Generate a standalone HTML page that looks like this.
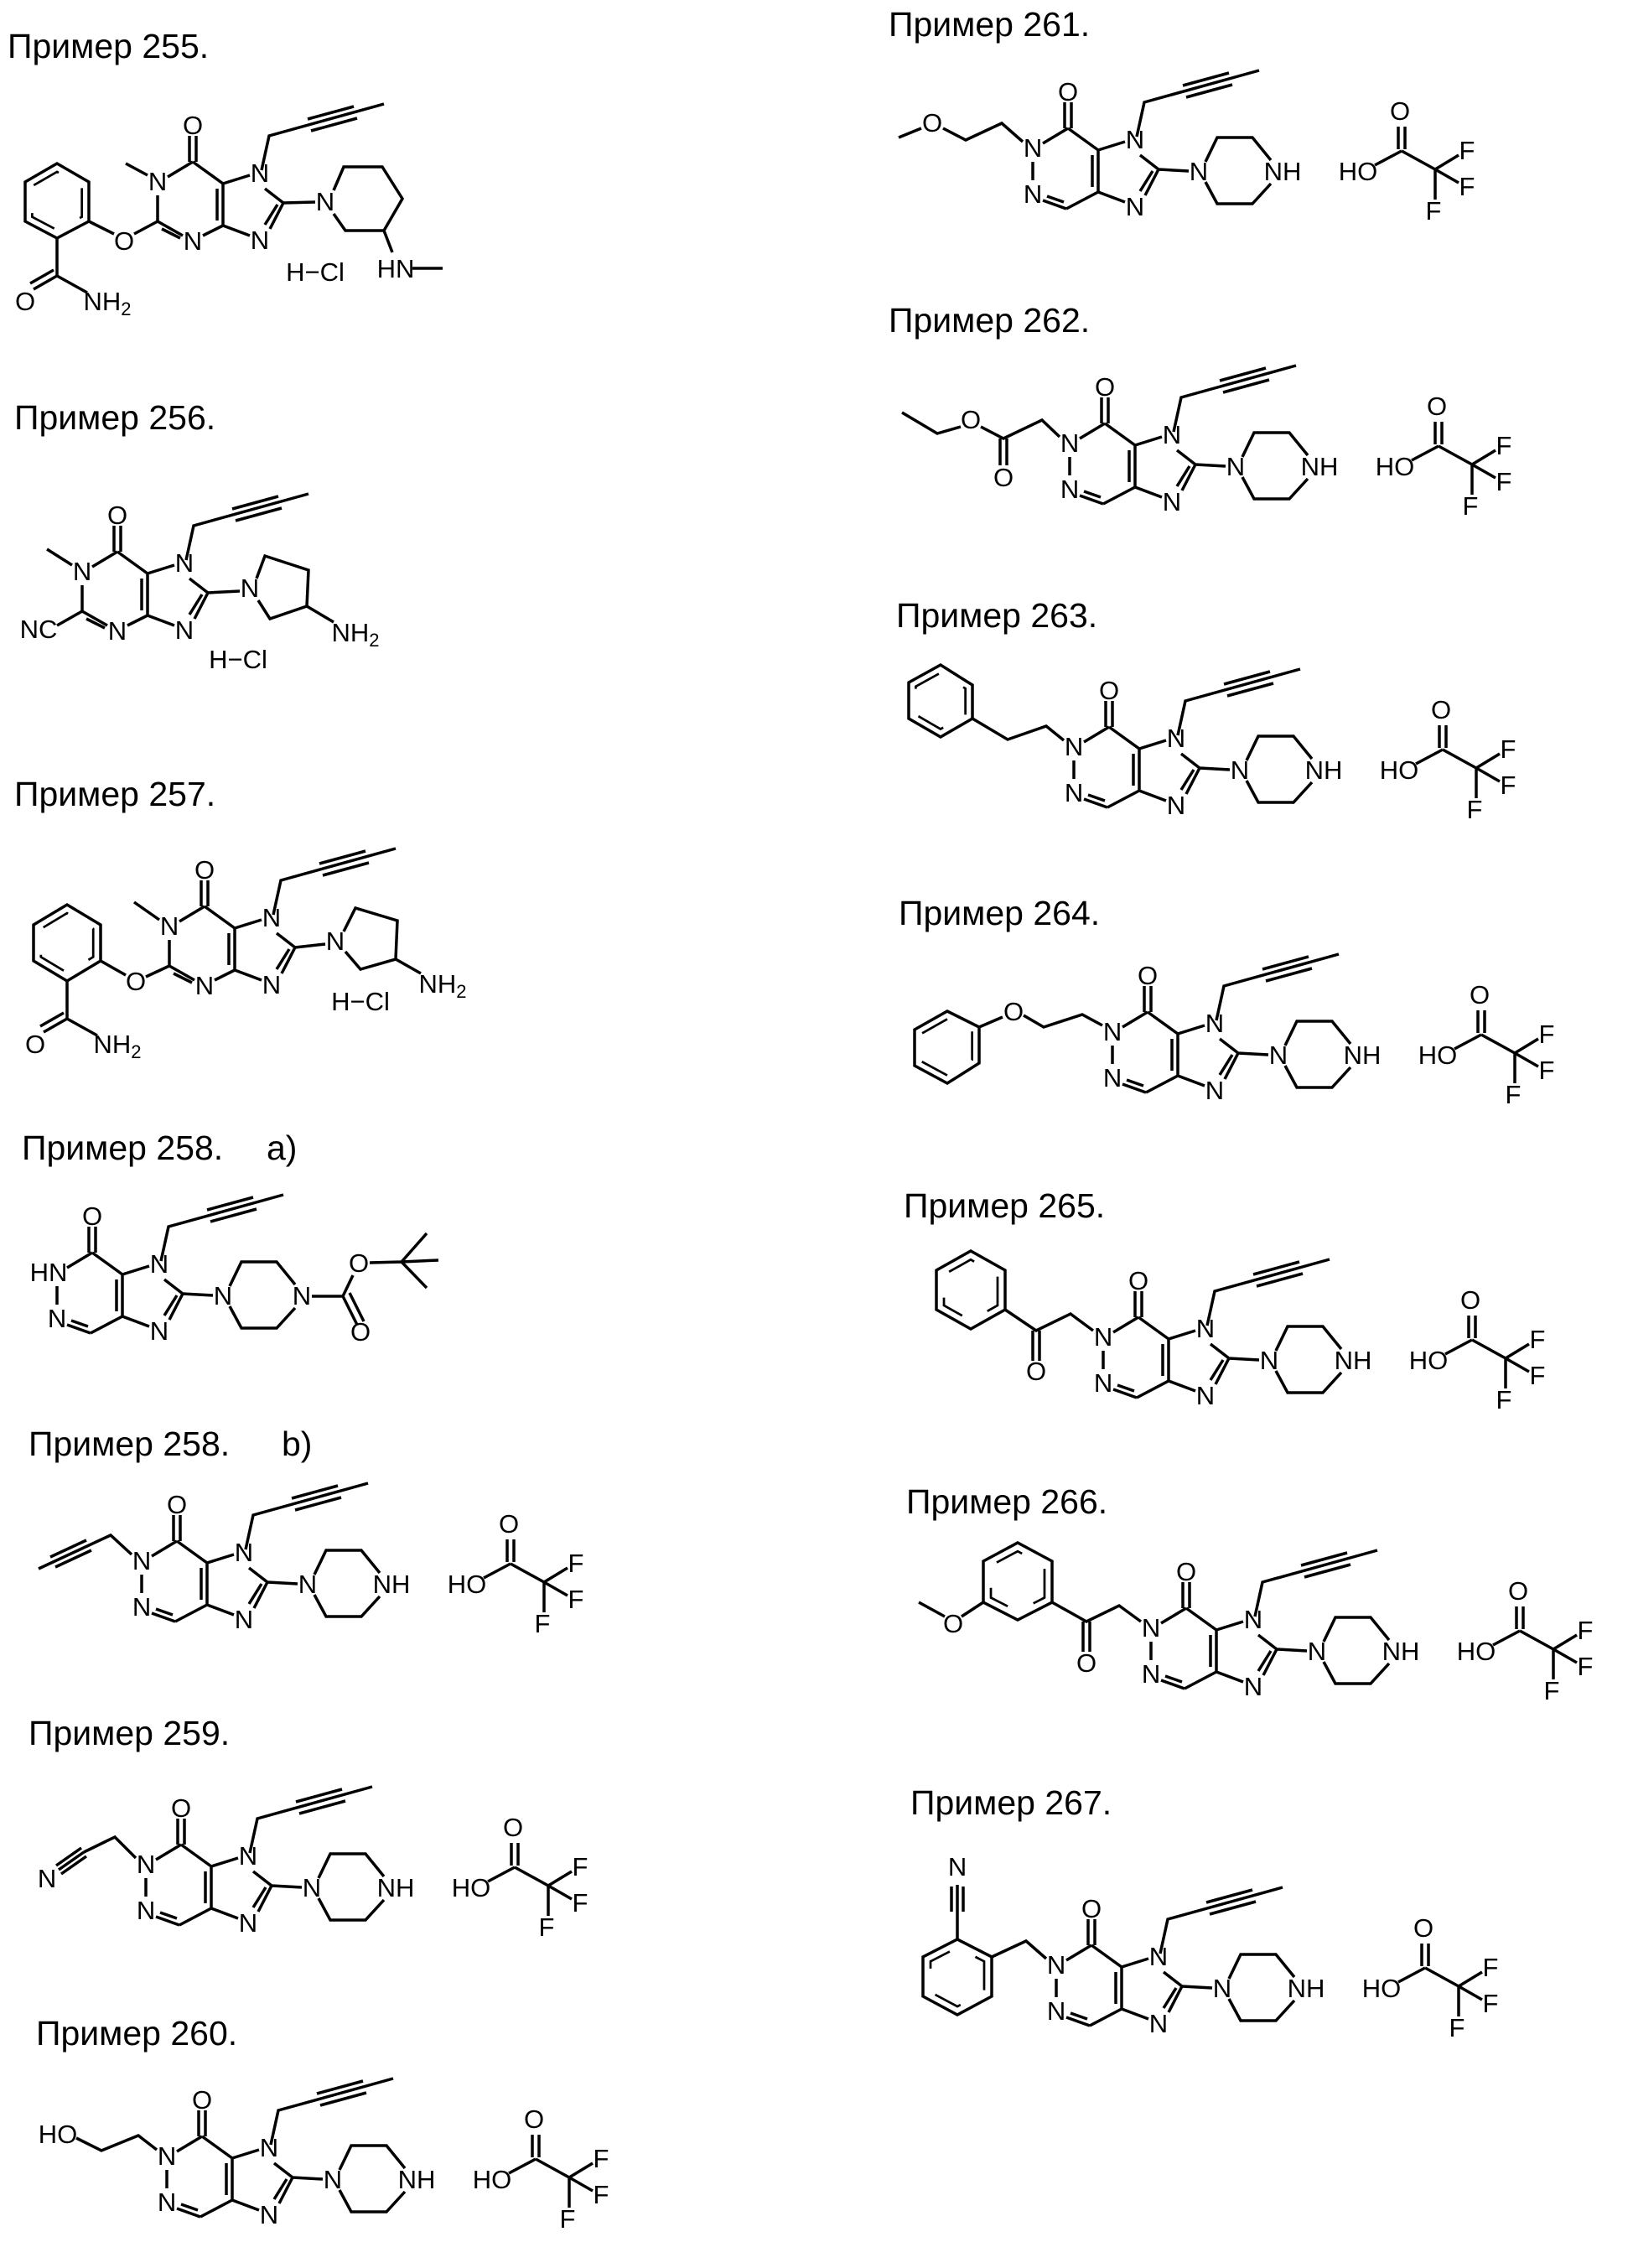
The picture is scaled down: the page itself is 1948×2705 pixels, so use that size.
<!DOCTYPE html>
<html><head><meta charset="utf-8"><style>
html,body{margin:0;padding:0;background:#fff;}
svg{display:block}
.t{font-family:"Liberation Sans",sans-serif;font-size:41px;fill:#000}
.a{font-family:"Liberation Sans Narrow","Liberation Sans",sans-serif;font-size:31px;fill:#000;text-anchor:middle}
path,polygon,line{fill:none;stroke:#000;stroke-width:3.5;stroke-linejoin:miter}
.in polygon{stroke-dasharray:44 44}
</style></head><body>
<svg width="1948" height="2705" viewBox="0 0 1948 2705" xmlns="http://www.w3.org/2000/svg">

<!-- Titles -->
<text class="t" x="9" y="69">Пример 255.</text>
<text class="t" x="17" y="512">Пример 256.</text>
<text class="t" x="17" y="961">Пример 257.</text>
<text class="t" x="26" y="1383">Пример 258.</text><text class="t" x="318" y="1383">a)</text>
<text class="t" x="34" y="1736">Пример 258.</text><text class="t" x="336" y="1736">b)</text>
<text class="t" x="34" y="2081">Пример 259.</text>
<text class="t" x="43" y="2439">Пример 260.</text>
<text class="t" x="1060" y="43">Пример 261.</text>
<text class="t" x="1060" y="396">Пример 262.</text>
<text class="t" x="1069" y="748">Пример 263.</text>
<text class="t" x="1072" y="1103">Пример 264.</text>
<text class="t" x="1078" y="1452">Пример 265.</text>
<text class="t" x="1081" y="1805">Пример 266.</text>
<text class="t" x="1086" y="2164">Пример 267.</text>

<!-- 255 -->
<g transform="translate(188,217)">
<path d="M12,-6 L42,-24 M38,-24 L38,-55 M46,-24 L46,-55 M42,-24 L78,2 M78,2 L78,52 M71,8 L71,46 M0,16 L0,47 L30,64 M5,56 L27,67 M54,64 L78,52 M78,2 L110,-8 M128,8 L150,25 M150,25 L134,56 M143,27 L128,51 M78,52 L110,64 M124,-14 L133,-55 L270,-93 M179,-75 L234,-90 M183,-61 L238,-76"/>
<text class="a" x="0" y="10">N</text><text class="a" x="42" y="-57">O</text><text class="a" x="122" y="0">N</text><text class="a" x="122" y="80">N</text><text class="a" x="42" y="81">N</text>
<path d="M-12,-8 L-38,-22 M0,47 L-28,62 M-52,62 L-82,47"/>
<text class="a" x="-40" y="81">O</text>
<polygon points="-82,47 -82,0 -120,-22 -158,0 -158,47 -120,67"/>
<g class="in" transform="translate(-120,23) scale(.78) translate(120,-23)"><polygon points="-82,47 -82,0 -120,-22 -158,0 -158,47 -120,67"/></g>
<path d="M-120,67 L-120,112 M-120,112 L-148,128 M-124,105 L-152,121 M-120,112 L-84,132"/>
<text class="a" x="-158" y="153">O</text><text class="a" x="-60" y="153">NH<tspan font-size="22" dy="6">2</tspan></text>
<path d="M150,25 L188,24 M210,10 L222,-18 L268,-18 L292,20 L270,58 L224,58 L210,38 M270,58 L280,84 M304,103 L340,103"/>
<text class="a" x="200" y="34">N</text><text class="a" x="284" y="114">HN</text>
<text class="a" x="188" y="118">H−Cl</text>
</g>

<!-- 256 -->
<g transform="translate(98,682)">
<path d="M12,-6 L42,-24 M38,-24 L38,-55 M46,-24 L46,-55 M42,-24 L78,2 M78,2 L78,52 M71,8 L71,46 M0,16 L0,47 L30,64 M5,56 L27,67 M54,64 L78,52 M78,2 L110,-8 M128,8 L150,25 M150,25 L134,56 M143,27 L128,51 M78,52 L110,64 M124,-14 L133,-55 L270,-93 M179,-75 L234,-90 M183,-61 L238,-76"/>
<text class="a" x="0" y="10">N</text><text class="a" x="42" y="-57">O</text><text class="a" x="122" y="0">N</text><text class="a" x="122" y="80">N</text><text class="a" x="42" y="81">N</text>
<path d="M-12,-8 L-42,-27 M0,47 L-30,64"/>
<text class="a" x="-52" y="79">NC</text>
<path d="M150,25 L188,23 M208,8 L218,-19 L270,-2 L268,41 L224,56 L210,34 M268,41 L300,60"/>
<text class="a" x="200" y="30">N</text>
<text class="a" x="326" y="83">NH<tspan font-size="22" dy="6">2</tspan></text>
<text class="a" x="186" y="115">H−Cl</text>
</g>

<!-- 257 -->
<g transform="translate(202,1105)">
<path d="M12,-6 L42,-24 M38,-24 L38,-55 M46,-24 L46,-55 M42,-24 L78,2 M78,2 L78,52 M71,8 L71,46 M0,16 L0,47 L30,64 M5,56 L27,67 M54,64 L78,52 M78,2 L110,-8 M128,8 L150,25 M150,25 L134,56 M143,27 L128,51 M78,52 L110,64 M124,-14 L133,-55 L270,-93 M179,-75 L234,-90 M183,-61 L238,-76"/>
<text class="a" x="0" y="10">N</text><text class="a" x="42" y="-57">O</text><text class="a" x="122" y="0">N</text><text class="a" x="122" y="80">N</text><text class="a" x="42" y="81">N</text>
<path d="M-12,-8 L-42,-29 M0,47 L-28,60 M-52,58 L-82,41"/>
<text class="a" x="-40" y="76">O</text>
<polygon points="-82,41 -82,-2 -122,-26 -162,-2 -162,41 -122,65"/>
<g class="in" transform="translate(-122,20) scale(.78) translate(122,-20)"><polygon points="-82,41 -82,-2 -122,-26 -162,-2 -162,41 -122,65"/></g>
<path d="M-122,65 L-122,110 M-122,110 L-150,126 M-126,103 L-154,119 M-122,110 L-86,130"/>
<text class="a" x="-160" y="151">O</text><text class="a" x="-62" y="151">NH<tspan font-size="22" dy="6">2</tspan></text>
<path d="M150,25 L186,21 M208,6 L222,-22 L272,-7 L270,39 L228,51 L210,30 M270,39 L300,56"/>
<text class="a" x="198" y="28">N</text>
<text class="a" x="326" y="79">NH<tspan font-size="22" dy="6">2</tspan></text>
<text class="a" x="228" y="100">H−Cl</text>
</g>

<!-- 258a -->
<g transform="translate(68,1518)">
<path d="M12,-6 L42,-24 M38,-24 L38,-55 M46,-24 L46,-55 M42,-24 L78,2 M78,2 L78,52 M71,8 L71,46 M78,52 L40,72 M40,72 L12,62 M37,64 L17,57 M0,16 L0,38 M78,2 L110,-8 M128,8 L150,25 M150,25 L134,56 M143,27 L128,51 M78,52 L110,64 M150,25 L186,27 M124,-14 L133,-55 L270,-93 M179,-75 L234,-90 M183,-61 L238,-76 M206,16 L220,-13 L262,-13 L284,14 M284,42 L262,66 L220,66 L206,40"/>
<text class="a" x="-10" y="10">HN</text><text class="a" x="0" y="65">N</text><text class="a" x="42" y="-57">O</text><text class="a" x="122" y="0">N</text><text class="a" x="122" y="80">N</text><text class="a" x="198" y="38">N</text><text class="a" x="292" y="38">N</text>
<path d="M304,28 L341,28 M341,28 L358,62 M349,24 L366,58 M341,28 L353,3 M373,-12 L411,-13 M411,-13 L441,-47 M411,-13 L455,-15 M411,-13 L441,18"/>
<text class="a" x="362" y="81">O</text><text class="a" x="360" y="-1">O</text>
</g>

<!-- 258b -->
<g transform="translate(169,1862)">
<path d="M12,-6 L42,-24 M38,-24 L38,-55 M46,-24 L46,-55 M42,-24 L78,2 M78,2 L78,52 M71,8 L71,46 M78,52 L40,72 M40,72 L12,62 M37,64 L17,57 M0,16 L0,38 M78,2 L110,-8 M128,8 L150,25 M150,25 L134,56 M143,27 L128,51 M78,52 L110,64 M150,25 L186,27 M124,-14 L133,-55 L270,-93 M179,-75 L234,-90 M183,-61 L238,-76 M206,16 L220,-13 L262,-13 L284,14 M284,42 L262,66 L220,66 L206,40"/>
<text class="a" x="0" y="10">N</text><text class="a" x="0" y="65">N</text><text class="a" x="42" y="-57">O</text><text class="a" x="122" y="0">N</text><text class="a" x="122" y="80">N</text><text class="a" x="198" y="38">N</text><text class="a" x="298" y="38">NH</text>
<path d="M-12,-8 L-37,-31 L-123,9 M-60,-13 L-103,7 M-66,-25 L-109,-5"/>
</g>
<g transform="translate(557,1890)">
<text class="a" x="0" y="10">HO</text><text class="a" x="50" y="-62">O</text><text class="a" x="130" y="-15">F</text><text class="a" x="130" y="28">F</text><text class="a" x="90" y="57">F</text>
<path d="M20,-8 L52,-25 M48,-27 L48,-54 M56,-27 L56,-54 M52,-25 L92,-3 M92,-3 L120,-20 M92,-3 L120,13 M92,-3 L92,33"/>
</g>

<!-- 259 -->
<g transform="translate(174,2224)">
<path d="M12,-6 L42,-24 M38,-24 L38,-55 M46,-24 L46,-55 M42,-24 L78,2 M78,2 L78,52 M71,8 L71,46 M78,52 L40,72 M40,72 L12,62 M37,64 L17,57 M0,16 L0,38 M78,2 L110,-8 M128,8 L150,25 M150,25 L134,56 M143,27 L128,51 M78,52 L110,64 M150,25 L186,27 M124,-14 L133,-55 L270,-93 M179,-75 L234,-90 M183,-61 L238,-76 M206,16 L220,-13 L262,-13 L284,14 M284,42 L262,66 L220,66 L206,40"/>
<text class="a" x="0" y="10">N</text><text class="a" x="0" y="65">N</text><text class="a" x="42" y="-57">O</text><text class="a" x="122" y="0">N</text><text class="a" x="122" y="80">N</text><text class="a" x="198" y="38">N</text><text class="a" x="298" y="38">NH</text>
<path d="M-12,-8 L-37,-33 L-74,-15 M-74,-15 L-104,6 M-71,-10 L-101,11 M-77,-20 L-107,1"/>
<text class="a" x="-118" y="27">N</text>
</g>
<g transform="translate(562,2252)">
<text class="a" x="0" y="10">HO</text><text class="a" x="50" y="-62">O</text><text class="a" x="130" y="-15">F</text><text class="a" x="130" y="28">F</text><text class="a" x="90" y="57">F</text>
<path d="M20,-8 L52,-25 M48,-27 L48,-54 M56,-27 L56,-54 M52,-25 L92,-3 M92,-3 L120,-20 M92,-3 L120,13 M92,-3 L92,33"/>
</g>

<!-- 260 -->
<g transform="translate(199,2572)">
<path d="M12,-6 L42,-24 M38,-24 L38,-55 M46,-24 L46,-55 M42,-24 L78,2 M78,2 L78,52 M71,8 L71,46 M78,52 L40,72 M40,72 L12,62 M37,64 L17,57 M0,16 L0,38 M78,2 L110,-8 M128,8 L150,25 M150,25 L134,56 M143,27 L128,51 M78,52 L110,64 M150,25 L186,27 M124,-14 L133,-55 L270,-93 M179,-75 L234,-90 M183,-61 L238,-76 M206,16 L220,-13 L262,-13 L284,14 M284,42 L262,66 L220,66 L206,40"/>
<text class="a" x="0" y="10">N</text><text class="a" x="0" y="65">N</text><text class="a" x="42" y="-57">O</text><text class="a" x="122" y="0">N</text><text class="a" x="122" y="80">N</text><text class="a" x="198" y="38">N</text><text class="a" x="298" y="38">NH</text>
<path d="M-12,-8 L-34,-25 L-78,-7 L-108,-22"/>
<text class="a" x="-130" y="-16">HO</text>
</g>
<g transform="translate(587,2600)">
<text class="a" x="0" y="10">HO</text><text class="a" x="50" y="-62">O</text><text class="a" x="130" y="-15">F</text><text class="a" x="130" y="28">F</text><text class="a" x="90" y="57">F</text>
<path d="M20,-8 L52,-25 M48,-27 L48,-54 M56,-27 L56,-54 M52,-25 L92,-3 M92,-3 L120,-20 M92,-3 L120,13 M92,-3 L92,33"/>
</g>

<!-- 261 -->
<g transform="translate(1232,177)">
<path d="M12,-6 L42,-24 M38,-24 L38,-55 M46,-24 L46,-55 M42,-24 L78,2 M78,2 L78,52 M71,8 L71,46 M78,52 L40,72 M40,72 L12,62 M37,64 L17,57 M0,16 L0,38 M78,2 L110,-8 M128,8 L150,25 M150,25 L134,56 M143,27 L128,51 M78,52 L110,64 M150,25 L186,27 M124,-14 L133,-55 L270,-93 M179,-75 L234,-90 M183,-61 L238,-76 M206,16 L220,-13 L262,-13 L284,14 M284,42 L262,66 L220,66 L206,40"/>
<text class="a" x="0" y="10">N</text><text class="a" x="0" y="65">N</text><text class="a" x="42" y="-57">O</text><text class="a" x="122" y="0">N</text><text class="a" x="122" y="80">N</text><text class="a" x="198" y="38">N</text><text class="a" x="298" y="38">NH</text>
<path d="M-12,-8 L-37,-30 L-80,-10 L-107,-24 M-133,-24 L-160,-13"/>
<text class="a" x="-120" y="-20">O</text>
</g>
<g transform="translate(1620,205)">
<text class="a" x="0" y="10">HO</text><text class="a" x="50" y="-62">O</text><text class="a" x="130" y="-15">F</text><text class="a" x="130" y="28">F</text><text class="a" x="90" y="57">F</text>
<path d="M20,-8 L52,-25 M48,-27 L48,-54 M56,-27 L56,-54 M52,-25 L92,-3 M92,-3 L120,-20 M92,-3 L120,13 M92,-3 L92,33"/>
</g>

<!-- 262 -->
<g transform="translate(1276,529)">
<path d="M12,-6 L42,-24 M38,-24 L38,-55 M46,-24 L46,-55 M42,-24 L78,2 M78,2 L78,52 M71,8 L71,46 M78,52 L40,72 M40,72 L12,62 M37,64 L17,57 M0,16 L0,38 M78,2 L110,-8 M128,8 L150,25 M150,25 L134,56 M143,27 L128,51 M78,52 L110,64 M150,25 L186,27 M124,-14 L133,-55 L270,-93 M179,-75 L234,-90 M183,-61 L238,-76 M206,16 L220,-13 L262,-13 L284,14 M284,42 L262,66 L220,66 L206,40"/>
<text class="a" x="0" y="10">N</text><text class="a" x="0" y="65">N</text><text class="a" x="42" y="-57">O</text><text class="a" x="122" y="0">N</text><text class="a" x="122" y="80">N</text><text class="a" x="198" y="38">N</text><text class="a" x="298" y="38">NH</text>
<path d="M-12,-8 L-33,-28 L-79,-6 L-106,-20 M-75,-6 L-75,26 M-83,-6 L-83,26 M-130,-20 L-158,-12 L-200,-37"/>
<text class="a" x="-79" y="51">O</text><text class="a" x="-118" y="-18">O</text>
</g>
<g transform="translate(1664,557)">
<text class="a" x="0" y="10">HO</text><text class="a" x="50" y="-62">O</text><text class="a" x="130" y="-15">F</text><text class="a" x="130" y="28">F</text><text class="a" x="90" y="57">F</text>
<path d="M20,-8 L52,-25 M48,-27 L48,-54 M56,-27 L56,-54 M52,-25 L92,-3 M92,-3 L120,-20 M92,-3 L120,13 M92,-3 L92,33"/>
</g>

<!-- 263 -->
<g transform="translate(1281,891)">
<path d="M12,-6 L42,-24 M38,-24 L38,-55 M46,-24 L46,-55 M42,-24 L78,2 M78,2 L78,52 M71,8 L71,46 M78,52 L40,72 M40,72 L12,62 M37,64 L17,57 M0,16 L0,38 M78,2 L110,-8 M128,8 L150,25 M150,25 L134,56 M143,27 L128,51 M78,52 L110,64 M150,25 L186,27 M124,-14 L133,-55 L270,-93 M179,-75 L234,-90 M183,-61 L238,-76 M206,16 L220,-13 L262,-13 L284,14 M284,42 L262,66 L220,66 L206,40"/>
<text class="a" x="0" y="10">N</text><text class="a" x="0" y="65">N</text><text class="a" x="42" y="-57">O</text><text class="a" x="122" y="0">N</text><text class="a" x="122" y="80">N</text><text class="a" x="198" y="38">N</text><text class="a" x="298" y="38">NH</text>
<path d="M-12,-8 L-33,-25 L-79,-9 L-121,-34"/>
<polygon points="-121,-34 -121,-74 -159,-98 -197,-77 -197,-34 -159,-12"/>
<g class="in" transform="translate(-159,-55) scale(.78) translate(159,55)"><polygon points="-121,-34 -121,-74 -159,-98 -197,-77 -197,-34 -159,-12"/></g>
</g>
<g transform="translate(1669,919)">
<text class="a" x="0" y="10">HO</text><text class="a" x="50" y="-62">O</text><text class="a" x="130" y="-15">F</text><text class="a" x="130" y="28">F</text><text class="a" x="90" y="57">F</text>
<path d="M20,-8 L52,-25 M48,-27 L48,-54 M56,-27 L56,-54 M52,-25 L92,-3 M92,-3 L120,-20 M92,-3 L120,13 M92,-3 L92,33"/>
</g>

<!-- 264 -->
<g transform="translate(1327,1231)">
<path d="M12,-6 L42,-24 M38,-24 L38,-55 M46,-24 L46,-55 M42,-24 L78,2 M78,2 L78,52 M71,8 L71,46 M78,52 L40,72 M40,72 L12,62 M37,64 L17,57 M0,16 L0,38 M78,2 L110,-8 M128,8 L150,25 M150,25 L134,56 M143,27 L128,51 M78,52 L110,64 M150,25 L186,27 M124,-14 L133,-55 L270,-93 M179,-75 L234,-90 M183,-61 L238,-76 M206,16 L220,-13 L262,-13 L284,14 M284,42 L262,66 L220,66 L206,40"/>
<text class="a" x="0" y="10">N</text><text class="a" x="0" y="65">N</text><text class="a" x="42" y="-57">O</text><text class="a" x="122" y="0">N</text><text class="a" x="122" y="80">N</text><text class="a" x="198" y="38">N</text><text class="a" x="298" y="38">NH</text>
<path d="M-12,-8 L-36,-21 L-82,-6 L-106,-20 M-131,-18 L-159,-6"/>
<text class="a" x="-118" y="-14">O</text>
<polygon points="-159,-6 -159,37 -197,61 -236,40 -236,-3 -197,-25"/>
<g class="in" transform="translate(-197,18) scale(.78) translate(197,-18)"><polygon points="-159,-6 -159,37 -197,61 -236,40 -236,-3 -197,-25"/></g>
</g>
<g transform="translate(1715,1259)">
<text class="a" x="0" y="10">HO</text><text class="a" x="50" y="-62">O</text><text class="a" x="130" y="-15">F</text><text class="a" x="130" y="28">F</text><text class="a" x="90" y="57">F</text>
<path d="M20,-8 L52,-25 M48,-27 L48,-54 M56,-27 L56,-54 M52,-25 L92,-3 M92,-3 L120,-20 M92,-3 L120,13 M92,-3 L92,33"/>
</g>

<!-- 265 -->
<g transform="translate(1316,1595)">
<path d="M12,-6 L42,-24 M38,-24 L38,-55 M46,-24 L46,-55 M42,-24 L78,2 M78,2 L78,52 M71,8 L71,46 M78,52 L40,72 M40,72 L12,62 M37,64 L17,57 M0,16 L0,38 M78,2 L110,-8 M128,8 L150,25 M150,25 L134,56 M143,27 L128,51 M78,52 L110,64 M150,25 L186,27 M124,-14 L133,-55 L270,-93 M179,-75 L234,-90 M183,-61 L238,-76 M206,16 L220,-13 L262,-13 L284,14 M284,42 L262,66 L220,66 L206,40"/>
<text class="a" x="0" y="10">N</text><text class="a" x="0" y="65">N</text><text class="a" x="42" y="-57">O</text><text class="a" x="122" y="0">N</text><text class="a" x="122" y="80">N</text><text class="a" x="198" y="38">N</text><text class="a" x="298" y="38">NH</text>
<path d="M-12,-8 L-39,-28 L-80,-8 L-117,-33 M-76,-8 L-76,28 M-84,-8 L-84,28"/>
<text class="a" x="-80" y="51">O</text>
<polygon points="-117,-33 -117,-80 -158,-103 -199,-80 -199,-33 -158,-10"/>
<g class="in" transform="translate(-158,-56) scale(.78) translate(158,56)"><polygon points="-117,-33 -117,-80 -158,-103 -199,-80 -199,-33 -158,-10"/></g>
</g>
<g transform="translate(1704,1623)">
<text class="a" x="0" y="10">HO</text><text class="a" x="50" y="-62">O</text><text class="a" x="130" y="-15">F</text><text class="a" x="130" y="28">F</text><text class="a" x="90" y="57">F</text>
<path d="M20,-8 L52,-25 M48,-27 L48,-54 M56,-27 L56,-54 M52,-25 L92,-3 M92,-3 L120,-20 M92,-3 L120,13 M92,-3 L92,33"/>
</g>

<!-- 266 -->
<g transform="translate(1373,1942)">
<path d="M12,-6 L42,-24 M38,-24 L38,-55 M46,-24 L46,-55 M42,-24 L78,2 M78,2 L78,52 M71,8 L71,46 M78,52 L40,72 M40,72 L12,62 M37,64 L17,57 M0,16 L0,38 M78,2 L110,-8 M128,8 L150,25 M150,25 L134,56 M143,27 L128,51 M78,52 L110,64 M150,25 L186,27 M124,-14 L133,-55 L270,-93 M179,-75 L234,-90 M183,-61 L238,-76 M206,16 L220,-13 L262,-13 L284,14 M284,42 L262,66 L220,66 L206,40"/>
<text class="a" x="0" y="10">N</text><text class="a" x="0" y="65">N</text><text class="a" x="42" y="-57">O</text><text class="a" x="122" y="0">N</text><text class="a" x="122" y="80">N</text><text class="a" x="198" y="38">N</text><text class="a" x="298" y="38">NH</text>
<path d="M-12,-8 L-38,-27 L-77,-8 L-118,-31 M-73,-8 L-73,28 M-81,-8 L-81,28 M-200,-31 L-226,-14 M-246,-14 L-277,-31"/>
<text class="a" x="-77" y="52">O</text><text class="a" x="-236" y="5">O</text>
<polygon points="-118,-31 -118,-80 -159,-102 -200,-80 -200,-31 -159,-10"/>
<g class="in" transform="translate(-159,-56) scale(.78) translate(159,56)"><polygon points="-118,-31 -118,-80 -159,-102 -200,-80 -200,-31 -159,-10"/></g>
</g>
<g transform="translate(1761,1970)">
<text class="a" x="0" y="10">HO</text><text class="a" x="50" y="-62">O</text><text class="a" x="130" y="-15">F</text><text class="a" x="130" y="28">F</text><text class="a" x="90" y="57">F</text>
<path d="M20,-8 L52,-25 M48,-27 L48,-54 M56,-27 L56,-54 M52,-25 L92,-3 M92,-3 L120,-20 M92,-3 L120,13 M92,-3 L92,33"/>
</g>

<!-- 267 -->
<g transform="translate(1260,2344)">
<path d="M12,-6 L42,-24 M38,-24 L38,-55 M46,-24 L46,-55 M42,-24 L78,2 M78,2 L78,52 M71,8 L71,46 M78,52 L40,72 M40,72 L12,62 M37,64 L17,57 M0,16 L0,38 M78,2 L110,-8 M128,8 L150,25 M150,25 L134,56 M143,27 L128,51 M78,52 L110,64 M150,25 L186,27 M124,-14 L133,-55 L270,-93 M179,-75 L234,-90 M183,-61 L238,-76 M206,16 L220,-13 L262,-13 L284,14 M284,42 L262,66 L220,66 L206,40"/>
<text class="a" x="0" y="10">N</text><text class="a" x="0" y="65">N</text><text class="a" x="42" y="-57">O</text><text class="a" x="122" y="0">N</text><text class="a" x="122" y="80">N</text><text class="a" x="198" y="38">N</text><text class="a" x="298" y="38">NH</text>
<path d="M-12,-8 L-36,-29 L-77,-10 M-118,-31 L-118,-62 M-118,-62 L-118,-96 M-125,-64 L-125,-94 M-111,-64 L-111,-94"/>
<text class="a" x="-118" y="-107">N</text>
<polygon points="-77,-10 -77,37 -118,59 -159,37 -159,-10 -118,-31"/>
<g class="in" transform="translate(-118,14) scale(.78) translate(118,-14)"><polygon points="-77,-10 -77,37 -118,59 -159,37 -159,-10 -118,-31"/></g>
</g>
<g transform="translate(1648,2372)">
<text class="a" x="0" y="10">HO</text><text class="a" x="50" y="-62">O</text><text class="a" x="130" y="-15">F</text><text class="a" x="130" y="28">F</text><text class="a" x="90" y="57">F</text>
<path d="M20,-8 L52,-25 M48,-27 L48,-54 M56,-27 L56,-54 M52,-25 L92,-3 M92,-3 L120,-20 M92,-3 L120,13 M92,-3 L92,33"/>
</g>

</svg>
</body></html>
